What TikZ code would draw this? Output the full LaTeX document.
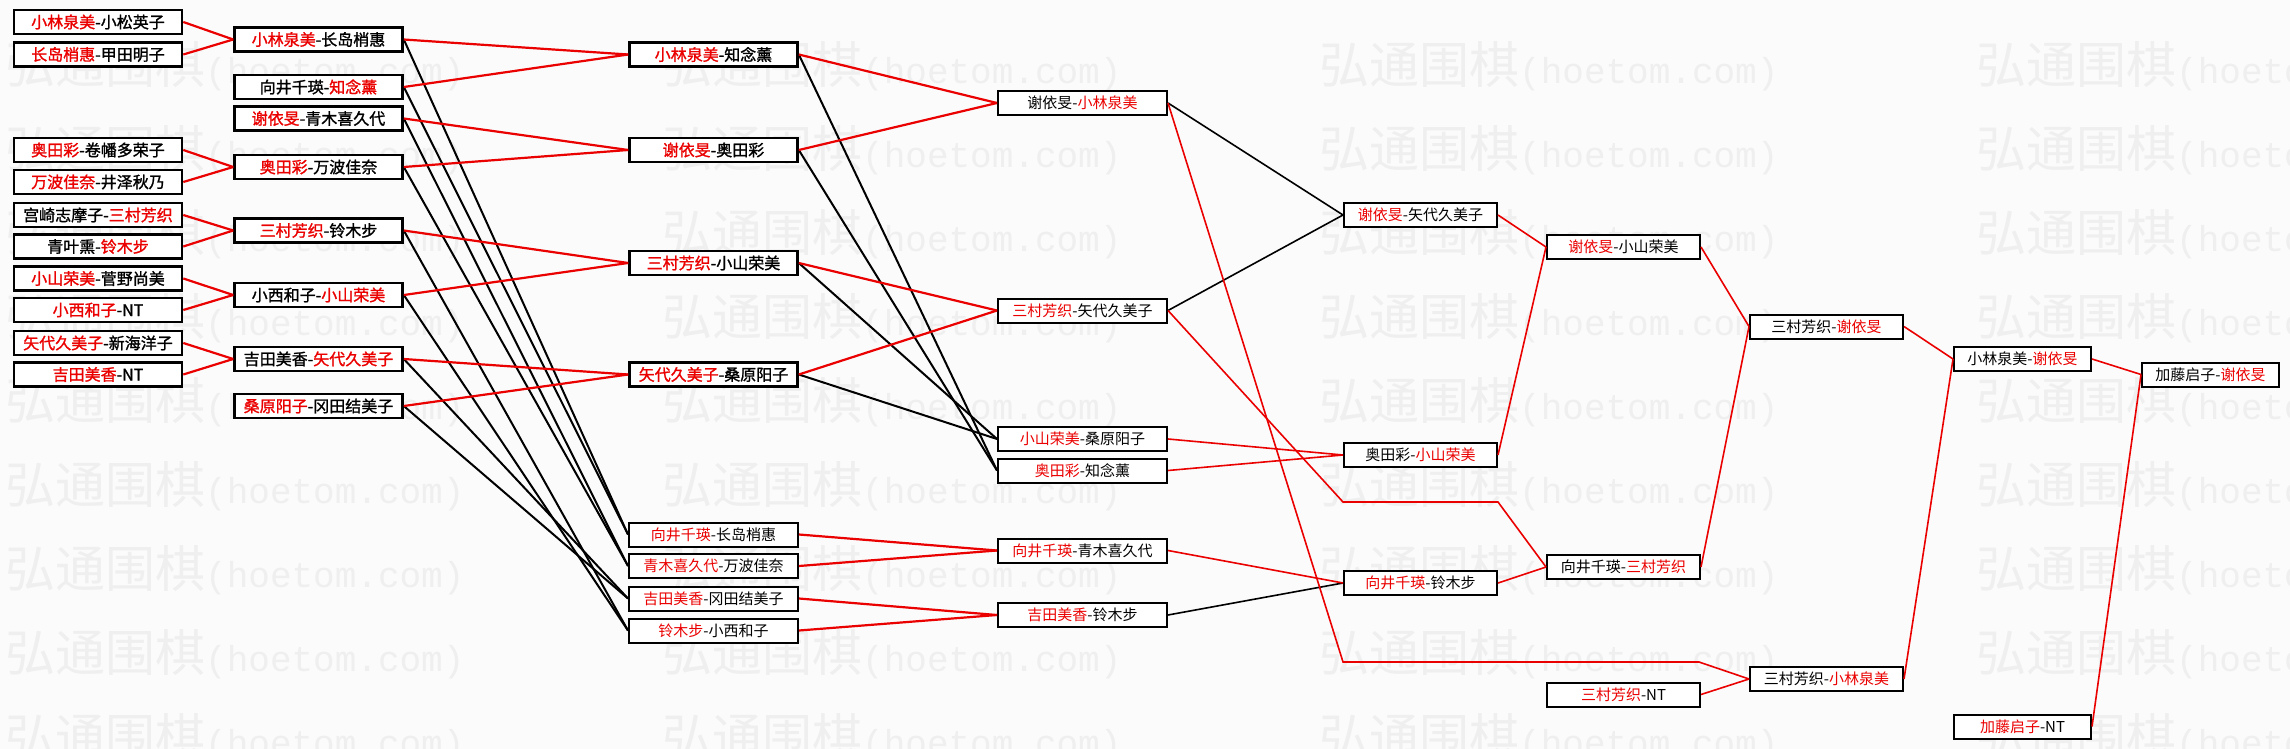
\documentclass[tikz,border=0pt]{standalone}
\usepackage{fontspec}
\setmainfont{Noto Sans CJK SC}
\newfontfamily\cjk{Noto Sans CJK SC}
\newfontfamily\cjkb[FakeBold=1.3]{Noto Sans CJK SC}
\newfontfamily\wmmono{Liberation Mono}
\definecolor{myred}{RGB}{235,0,0}
\definecolor{bgc}{RGB}{251,251,251}
\definecolor{wmc}{RGB}{239,239,239}
\newcommand\wn[1]{\textcolor{myred}{#1}}
\begin{document}
\begin{tikzpicture}[x=1pt,y=-1pt,
  box/.style={draw=black, fill=white, inner sep=0pt, minimum height=24pt, text=black, font=\cjk\fontsize{15}{15}\selectfont},
  bA/.style={box, line width=2.6pt, minimum width=168pt, font=\cjkb\fontsize{16}{16}\selectfont},
  bB/.style={box, line width=2pt, minimum width=169pt},
  bC/.style={box, line width=2pt, minimum width=153pt},
  bD/.style={box, line width=2pt, minimum width=137pt},
  rl/.style={draw=myred, line width=2.2pt},
  bl/.style={draw=black, line width=2pt},
  rlt/.style={draw=myred, line width=1.6pt},
  blt/.style={draw=black, line width=1.6pt},
  wm/.style={anchor=west, text=wmc, inner sep=0pt, font=\cjk\fontsize{50}{50}\selectfont}
]
\useasboundingbox[fill=bgc] (0,0) rectangle (2290,749);
% watermark
\foreach \r in {0,...,8}{
  \foreach \c in {0,...,3}{
    \node[wm] (wm-\r-\c) at (5+657*\c, 66+84*\r) {弘通围棋{\wmmono\fontsize{36}{36}\selectfont(hoetom.com)}};
  }
}
% column 1
\node[bA] (a1) at (98,22) {\wn{小林泉美}-小松英子};
\node[bA] (a2) at (98,54.5) {\wn{长岛梢惠}-甲田明子};
\node[bA] (a3) at (98,150) {\wn{奥田彩}-卷幡多荣子};
\node[bA] (a4) at (98,182) {\wn{万波佳奈}-井泽秋乃};
\node[bA] (a5) at (98,215) {宫崎志摩子-\wn{三村芳织}};
\node[bA] (a6) at (98,246.5) {青叶熏-\wn{铃木步}};
\node[bA] (a7) at (98,278.5) {\wn{小山荣美}-菅野尚美};
\node[bA] (a8) at (98,310) {\wn{小西和子}-NT};
\node[bA] (a9) at (98,343) {\wn{矢代久美子}-新海洋子};
\node[bA] (a10) at (98,374.5) {\wn{吉田美香}-NT};
% column 2
\node[bA] (b1) at (318.5,39.5) {\wn{小林泉美}-长岛梢惠};
\node[bA] (b2) at (318.5,87) {向井千瑛-\wn{知念薰}};
\node[bA] (b3) at (318.5,118.5) {\wn{谢依旻}-青木喜久代};
\node[bA] (b4) at (318.5,167) {\wn{奥田彩}-万波佳奈};
\node[bA] (b5) at (318.5,230.5) {\wn{三村芳织}-铃木步};
\node[bA] (b6) at (318.5,295) {小西和子-\wn{小山荣美}};
\node[bA] (b7) at (318.5,359) {吉田美香-\wn{矢代久美子}};
\node[bA] (b8) at (318.5,406) {\wn{桑原阳子}-冈田结美子};
% column 3
\node[bA] (c1) at (713.5,54.5) {\wn{小林泉美}-知念薰};
\node[bA] (c2) at (713.5,150) {\wn{谢依旻}-奥田彩};
\node[bA] (c3) at (713.5,263) {\wn{三村芳织}-小山荣美};
\node[bA] (c4) at (713.5,374.5) {\wn{矢代久美子}-桑原阳子};
\node[bB] (c5) at (713.5,534.5) {\wn{向井千瑛}-长岛梢惠};
\node[bB] (c6) at (713.5,566) {\wn{青木喜久代}-万波佳奈};
\node[bB] (c7) at (713.5,598.5) {\wn{吉田美香}-冈田结美子};
\node[bB] (c8) at (713.5,630.5) {\wn{铃木步}-小西和子};
% column 4
\node[bB] (d1) at (1082.5,103) {谢依旻-\wn{小林泉美}};
\node[bB] (d2) at (1082.5,310.5) {\wn{三村芳织}-矢代久美子};
\node[bB] (d3) at (1082.5,439) {\wn{小山荣美}-桑原阳子};
\node[bB] (d4) at (1082.5,470.5) {\wn{奥田彩}-知念薰};
\node[bB] (d5) at (1082.5,550.5) {\wn{向井千瑛}-青木喜久代};
\node[bB] (d6) at (1082.5,615) {\wn{吉田美香}-铃木步};
% column 5
\node[bC] (e1) at (1420.5,215) {\wn{谢依旻}-矢代久美子};
\node[bC] (e2) at (1420.5,455) {奥田彩-\wn{小山荣美}};
\node[bC] (e3) at (1420.5,583) {\wn{向井千瑛}-铃木步};
% column 6
\node[bC] (f1) at (1623.5,247) {\wn{谢依旻}-小山荣美};
\node[bC] (f2) at (1623.5,567) {向井千瑛-\wn{三村芳织}};
\node[bC] (f3) at (1623.5,694.5) {\wn{三村芳织}-NT};
% column 7
\node[bC] (g1) at (1826.5,326.5) {三村芳织-\wn{谢依旻}};
\node[bC] (g2) at (1826.5,679) {三村芳织-\wn{小林泉美}};
% column 8
\node[bD] (h1) at (2022.5,359) {小林泉美-\wn{谢依旻}};
\node[bD] (h2) at (2022.5,726.5) {\wn{加藤启子}-NT};
% column 9
\node[bD] (i1) at (2210.5,374.5) {加藤启子-\wn{谢依旻}};
% routing points
\coordinate (p1) at (1343,662);
\coordinate (p2) at (1699,662);
\coordinate (q1) at (1343,502);
\coordinate (q2) at (1498,502);
% connectors col1 -> col2
\foreach \s/\t in {a1/b1,a2/b1,a3/b4,a4/b4,a5/b5,a6/b5,a7/b6,a8/b6,a9/b7,a10/b7}
  \draw[rl] (\s.east) -- (\t.west);
% col2 -> col3
\foreach \s/\t in {b1/c5,b2/c5,b3/c6,b4/c6,b7/c7,b8/c7,b5/c8,b6/c8}
  \draw[bl] (\s.east) -- (\t.west);
\foreach \s/\t in {b1/c1,b2/c1,b3/c2,b4/c2,b5/c3,b6/c3,b7/c4,b8/c4}
  \draw[rl] (\s.east) -- (\t.west);
% col3 -> col4
\foreach \s/\t in {c1/d4,c2/d4,c3/d3,c4/d3}
  \draw[bl] (\s.east) -- (\t.west);
\foreach \s/\t in {c1/d1,c2/d1,c3/d2,c4/d2,c5/d5,c6/d5,c7/d6,c8/d6}
  \draw[rl] (\s.east) -- (\t.west);
% col4 -> col5
\foreach \s/\t in {d1/e1,d2/e1,d6/e3}
  \draw[blt] (\s.east) -- (\t.west);
\foreach \s/\t in {d3/e2,d4/e2,d5/e3}
  \draw[rlt] (\s.east) -- (\t.west);
\draw[rlt] (d1.east) -- (p1) -- (p2) -- (g2.west);
\draw[rlt] (d2.east) -- (q1) -- (q2) -- (f2.west);
% later rounds
\foreach \s/\t in {e1/f1,e2/f1,e3/f2,f3/g2,f1/g1,f2/g1,g1/h1,g2/h1,h1/i1,h2/i1}
  \draw[rlt] (\s.east) -- (\t.west);
\end{tikzpicture}
\end{document}
